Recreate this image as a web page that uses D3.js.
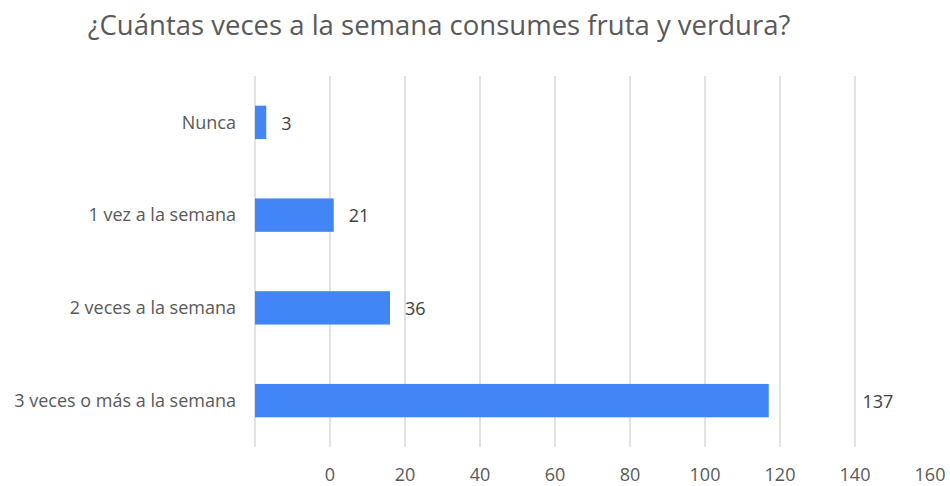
<!DOCTYPE html>
<html>
<head>
<meta charset="utf-8">
<script src="https://cdn.jsdelivr.net/npm/d3@7"></script>
<style>
	body { margin: 0; background: #fff; }
	text { font-family: "Open Sans", "Noto Sans", sans-serif; }
</style>
</head>
<body>
<svg id="chart" width="950" height="486"></svg>
<script>
// chart data
const title = '¿Cuántas veces a la semana consumes fruta y verdura?';
const categories = ['Nunca', '1 vez a la semana', '2 veces a la semana', '3 veces o más a la semana'];
const values = [3, 21, 36, 137];
const tickLabels = [0, 20, 40, 60, 80, 100, 120, 140, 160];

const width = 950;
const height = 486;
const margin = {top: 76, right: 95, bottom: 39, left: 255};

let svg = d3.select('#chart');

let x = d3.scaleLinear()
	.domain([0, 160])
	.range([margin.left, width - margin.right]);

let y = d3.scaleBand()
	.domain(categories)
	.range([margin.top, height - margin.bottom])
	.paddingInner(0.64)
	.paddingOuter(0.32);

let step = x(20) - x(0);

// title
svg.append('text')
	.attr('x', 439)
	.attr('y', 35)
	.attr('text-anchor', 'middle')
	.attr('fill', '#595959')
	.style('font-size', '27.5px')
	.text(title);

// gridlines
svg.append('g')
	.selectAll('line')
	.data(tickLabels)
	.enter()
	.append('line')
	.attr('x1', (d) => x(d))
	.attr('x2', (d) => x(d))
	.attr('y1', margin.top)
	.attr('y2', height - margin.bottom)
	.attr('stroke', '#d9d9d9')
	.attr('stroke-width', 1.5);

// tick labels (shifted one step right, as in the original)
svg.append('g')
	.selectAll('text')
	.data(tickLabels)
	.enter()
	.append('text')
	.attr('x', (d) => x(d) + step)
	.attr('y', 481)
	.attr('text-anchor', 'middle')
	.attr('fill', '#595959')
	.style('font-size', '18px')
	.text((d) => d);

// category labels
svg.append('g')
	.selectAll('text')
	.data(categories)
	.enter()
	.append('text')
	.attr('x', 236)
	.attr('y', (d) => y(d) + y.bandwidth() / 2)
	.attr('dy', '0.35em')
	.attr('text-anchor', 'end')
	.attr('fill', '#595959')
	.style('font-size', '18px')
	.text((d) => d);

let rows = categories.map((c, i) => ({name: c, value: values[i]}));

// bars
svg.append('g')
	.selectAll('rect')
	.data(rows)
	.enter()
	.append('rect')
	.attr('x', x(0))
	.attr('y', (d) => y(d.name))
	.attr('width', (d) => x(d.value) - x(0))
	.attr('height', y.bandwidth())
	.attr('fill', '#4285f4');

// value labels
svg.append('g')
	.selectAll('text')
	.data(rows)
	.enter()
	.append('text')
	.attr('x', (d) => x(d.value + (d.value > 100 ? 25 : 4)))
	.attr('y', (d) => y(d.name) + y.bandwidth() / 2 + 1)
	.attr('dy', '0.35em')
	.attr('fill', '#404040')
	.style('font-size', '18px')
	.text((d) => d.value);
</script>
</body>
</html>
